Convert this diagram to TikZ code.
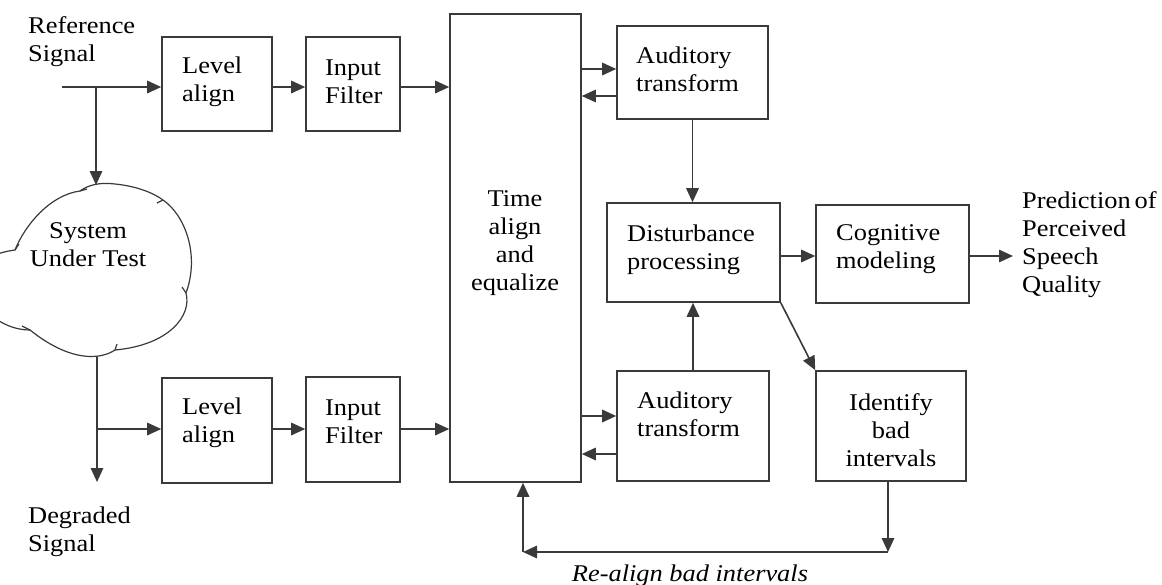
\documentclass[tikz,border=0pt]{standalone}
\usepackage{fontspec}
\setmainfont{Liberation Serif}[FakeStretch=1.1]
\usetikzlibrary{arrows.meta,calc}
\definecolor{linegray}{HTML}{3A3A3A}
\begin{document}
\begin{tikzpicture}[x=1pt,y=-1pt,
  font=\fontsize{24}{28}\selectfont,
  box/.style={draw=linegray,line width=1.6pt,inner sep=0pt},
  txt/.style={inner sep=0pt,align=left,anchor=west,text=black},
  ctxt/.style={inner sep=0pt,align=center,text=black},
  arr/.style={draw=linegray,line width=1.6pt,-{Triangle[length=14pt,width=12.5pt]}},
  cl/.style={draw=linegray,line width=1.2pt}]
\useasboundingbox (0,0) rectangle (1162,584);
% boxes
\node[box,minimum width=110pt,minimum height=94pt] (la1) at (217,84) {};
\node[box,minimum width=94pt,minimum height=94pt] (if1) at (353,84) {};
\node[box,minimum width=131pt,minimum height=468pt] (ta) at (515.5,248) {};
\node[box,minimum width=151pt,minimum height=93pt] (at1) at (692.5,72.5) {};
\node[box,minimum width=173pt,minimum height=99pt] (dp) at (693.5,252.5) {};
\node[box,minimum width=153pt,minimum height=98pt] (cm) at (892.5,254) {};
\node[box,minimum width=152pt,minimum height=110pt] (at2) at (693,426) {};
\node[box,minimum width=150pt,minimum height=110pt] (id) at (891,426) {};
\node[box,minimum width=110pt,minimum height=105pt] (la2) at (217,430.5) {};
\node[box,minimum width=94pt,minimum height=105pt] (if2) at (353,429.5) {};
% texts
\node[txt] (tla1) at (182,82) {Level\\align};
\node[txt] (tif1) at (325,82) {Input\\Filter};
\node[txt] (tat1) at (636,69) {Auditory\\transform};
\node[txt] (tdp) at (627,250) {Disturbance\\processing};
\node[txt] (tcm) at (836,249) {Cognitive\\modeling};
\node[txt] (tat2) at (637,414) {Auditory\\transform};
\node[txt] (tla2) at (182,423) {Level\\align};
\node[txt] (tif2) at (325,422) {Input\\Filter};
\node[ctxt] (tid) at (891,430) {Identify\\bad\\intervals};
\node[ctxt] (tta) at (515,243) {Time\\align\\and\\equalize};
\node[ctxt] (tsut) at (88,245) {System\\Under Test};
\node[txt] (tref) at (28,42) {Reference\\Signal};
\node[txt] (tdeg) at (28,532) {Degraded\\Signal};
\node[txt] (tpred) at (1022,245) {Prediction\,of\\Perceived\\Speech\\Quality};
\node[inner sep=0pt,anchor=base,font=\fontsize{24}{28}\selectfont\itshape] (trl) at (690,581) {Re-align bad intervals};
% coordinates
\coordinate (refin) at (62,87);
\coordinate (refbr) at (96,87);
\coordinate (ctop) at (96,185);
\coordinate (cbot) at (97,357);
\coordinate (degbr) at (97,429);
\coordinate (degout) at (97,482);
\coordinate (yA) at (0,69);
\coordinate (yB) at (0,96);
\coordinate (yC) at (0,256);
\coordinate (yD) at (0,416);
\coordinate (yE) at (0,454);
\coordinate (outp) at (1013,256);
\coordinate (fb) at (888,552);
\coordinate (fc) at (523,552);
% cloud
\draw[cl] (80,191) .. controls (88,185) and (100,182) .. (115,184)
  .. controls (135,186) and (152,192) .. (163,200)
  .. controls (185,215) and (200,255) .. (186,293)
  .. controls (192,315) and (170,345) .. (115,350)
  .. controls (100,360) and (70,362) .. (30,330)
  .. controls (-20,330) and (-60,260) .. (15,250)
  .. controls (25,225) and (50,195) .. (80,191);
\draw[cl] (80,191) -- (87,189);
\draw[cl] (163,200) -- (157,203);
\draw[cl] (186,293) -- (182,287);
\draw[cl] (115,350) -- (117,344);
\draw[cl] (30,330) -- (22,326);
\draw[cl] (15,250) -- (19,244);
% connectors
\draw[arr] (refin) -- (la1.west |- refin);
\draw[arr] (refbr) -- (ctop);
\draw[arr] (la1.east |- refin) -- (if1.west |- refin);
\draw[arr] (if1.east |- refin) -- (ta.west |- refin);
\draw[arr] (ta.east |- yA) -- (at1.west |- yA);
\draw[arr] (at1.west |- yB) -- (ta.east |- yB);
\draw[arr] (at1.south) -- (at1.south |- dp.north);
\draw[arr] (cbot) -- (degout);
\draw[arr] (degbr) -- (la2.west |- degbr);
\draw[arr] (la2.east |- degbr) -- (if2.west |- degbr);
\draw[arr] (if2.east |- degbr) -- (ta.west |- degbr);
\draw[arr] (ta.east |- yD) -- (at2.west |- yD);
\draw[arr] (at2.west |- yE) -- (ta.east |- yE);
\draw[arr] (at2.north) -- (at2.north |- dp.south);
\draw[arr] (dp.east |- yC) -- (cm.west |- yC);
\draw[arr] (cm.east |- yC) -- (outp);
\draw[arr] (dp.south east) -- (id.north west);
\draw[arr] (id.south -| fb) -- (fb);
\draw[arr] (fb) -- (fc);
\draw[arr] (fc) -- (fc |- ta.south);
\end{tikzpicture}
\end{document}
